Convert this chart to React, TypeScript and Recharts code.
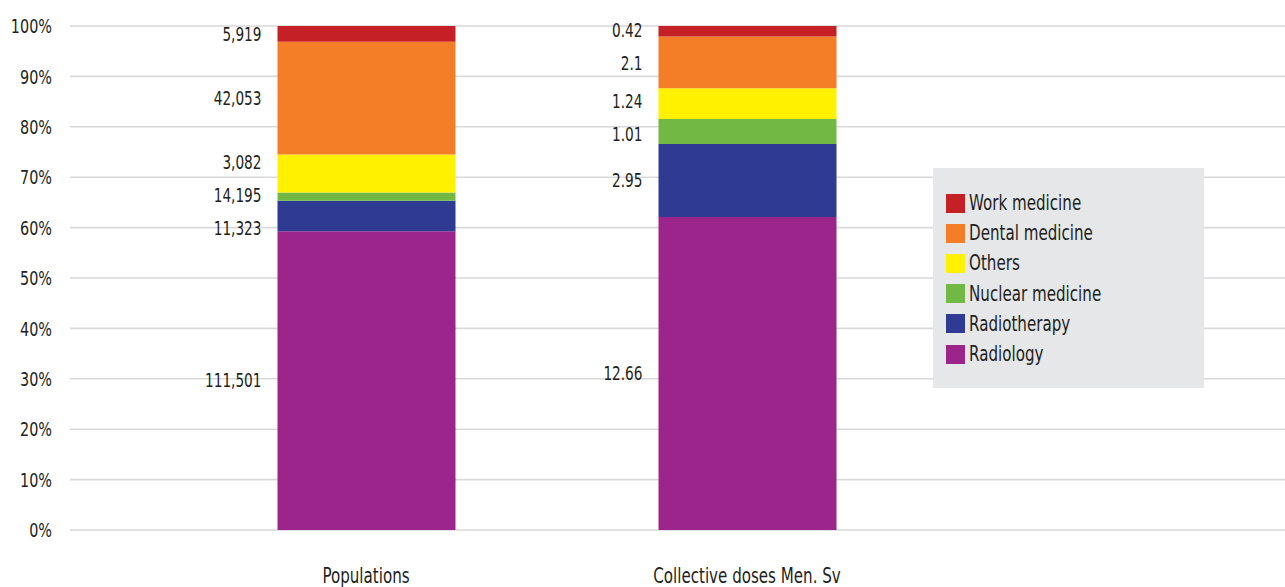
import React from 'react';
import { BarChart, Bar, XAxis, YAxis, CartesianGrid, Legend, LabelList } from 'recharts';

// Categories (x axis)
const categories = ['Populations', 'Collective doses Men. Sv'];

// Series values (one entry per category)
const radiology = [111501, 12.66];
const radiotherapy = [11323, 2.95];
const nuclearMedicine = [3082, 1.01];
const others = [14195, 1.24];
const dentalMedicine = [42053, 2.1];
const workMedicine = [5919, 0.42];

// Value labels as printed beside each segment
const radiologyLabels = ['111,501', '12.66'];
const radiotherapyLabels = ['11,323', '2.95'];
const nuclearLabels = ['14,195', '1.01'];
const othersLabels = ['3,082', '1.24'];
const dentalLabels = ['42,053', '2.1'];
const workLabels = ['5,919', '0.42'];

// Y axis tick values (share of total)
const yTicks = [0, 0.1, 0.2, 0.3, 0.4, 0.5, 0.6, 0.7, 0.8, 0.9, 1];

const FONT = "'DejaVu Sans Condensed', 'DejaVu Sans', sans-serif";
const TEXT = '#231F20';
const SQUEEZE = 0.8;
const MIN_LABEL_GAP = 0.065; // minimum vertical gap between labels, in share of the bar

const series = [
  { key: 'radiology', name: 'Radiology', color: '#9B258B', values: radiology, labels: radiologyLabels },
  { key: 'radiotherapy', name: 'Radiotherapy', color: '#2F3B93', values: radiotherapy, labels: radiotherapyLabels },
  { key: 'nuclear', name: 'Nuclear medicine', color: '#72B844', values: nuclearMedicine, labels: nuclearLabels },
  { key: 'others', name: 'Others', color: '#FFF100', values: others, labels: othersLabels },
  { key: 'dental', name: 'Dental medicine', color: '#F37E27', values: dentalMedicine, labels: dentalLabels },
  { key: 'work', name: 'Work medicine', color: '#C52026', values: workMedicine, labels: workLabels },
];

const data = categories.map((category, i) => {
  const row: Record<string, string | number> = { category };
  series.forEach((s) => {
    row[s.key] = s.values[i];
  });
  return row;
});

// For each category: segment start share, segment share and spread label centre share per series
const layout = categories.map((_, ci) => {
  const total = series.reduce((a, s) => a + s.values[ci], 0);
  let acc = 0;
  const segs = series.map((s) => {
    const start = acc / total;
    const share = s.values[ci] / total;
    acc += s.values[ci];
    return { start, share, centre: start + share / 2 };
  });
  // spread label centres so that they keep a minimum gap (clusters centred on their mean)
  type Cl = { items: number[]; pos: number };
  const clusters: Cl[] = [];
  segs.forEach((seg, i) => {
    clusters.push({ items: [i], pos: seg.centre });
    while (clusters.length > 1) {
      const b = clusters[clusters.length - 1];
      const a = clusters[clusters.length - 2];
      const aEnd = a.pos + (a.items.length - 1) * MIN_LABEL_GAP;
      if (b.pos - aEnd >= MIN_LABEL_GAP) break;
      const items = a.items.concat(b.items);
      const pos = items.reduce((sum, k, j) => sum + segs[k].centre - j * MIN_LABEL_GAP, 0) / items.length;
      clusters.splice(clusters.length - 2, 2, { items, pos });
    }
  });
  const labelAt: number[] = new Array(segs.length).fill(0);
  clusters.forEach((c) => c.items.forEach((k, j) => (labelAt[k] = c.pos + j * MIN_LABEL_GAP)));
  return segs.map((seg, i) => ({ ...seg, labelAt: labelAt[i] }));
});

const NarrowText = ({ x, y, anchor, size, baseline, children }: any) => (
  <text
    transform={`translate(${x},${y}) scale(${SQUEEZE},1)`}
    x={0}
    y={0}
    textAnchor={anchor}
    dominantBaseline={baseline}
    fontFamily={FONT}
    fontSize={size}
    fill={TEXT}
  >
    {children}
  </text>
);

const makeLabel = (seriesIndex: number, labels: string[]) => (props: any) => {
  const { x, y, height, index } = props;
  if (index == null || labels[index] == null) return null;
  const seg = layout[index][seriesIndex];
  const h = Number(height);
  const pxPerShare = seg.share > 0 ? h / seg.share : 0;
  const bottom = Number(y) + h;
  const ly = bottom - (seg.labelAt - seg.start) * pxPerShare;
  return (
    <NarrowText x={Number(x) - 16} y={ly} anchor="end" size={19} baseline="central">
      {labels[index]}
    </NarrowText>
  );
};

const YTick = (props: any) => {
  const { x, y, payload } = props;
  return (
    <NarrowText x={x} y={y} anchor="end" size={20} baseline="central">
      {`${Math.round(payload.value * 100)}%`}
    </NarrowText>
  );
};

const XTick = (props: any) => {
  const { x, y, payload } = props;
  return (
    <NarrowText x={x} y={Number(y) + 15} anchor="middle" size={21} baseline="auto">
      {payload.value}
    </NarrowText>
  );
};

const LegendBox = (props: any) => {
  const payload = props.payload || [];
  const items = [...series].reverse().map((s) => {
    const p = payload.find((e: any) => e.value === s.name);
    return { name: s.name, color: (p && p.color) || s.color };
  });
  return (
    <div
      style={{
        background: '#E6E7E8',
        width: 271,
        height: 220,
        boxSizing: 'border-box',
        paddingTop: 20,
        paddingLeft: 13,
        fontFamily: FONT,
      }}
    >
      {items.map((entry) => (
        <div key={entry.name} style={{ display: 'flex', alignItems: 'center', height: 30.2 }}>
          <span
            style={{ width: 19, height: 19, background: entry.color, display: 'inline-block', marginRight: 4, flex: 'none' }}
          />
          <span
            style={{
              fontSize: 21,
              color: TEXT,
              lineHeight: '30px',
              display: 'inline-block',
              transform: `scaleX(${SQUEEZE})`,
              transformOrigin: 'left center',
              whiteSpace: 'nowrap',
            }}
          >
            {entry.name}
          </span>
        </div>
      ))}
    </div>
  );
};

export default function App() {
  return (
    <div style={{ position: 'absolute', left: 0, top: 0, background: '#fff' }}>
      <BarChart
        width={1285}
        height={587}
        data={data}
        stackOffset="expand"
        margin={{ top: 26, right: 0, bottom: 0, left: 0 }}
        barSize={178}
      >
        <CartesianGrid vertical={false} stroke="#D9D9DB" strokeWidth={1.6} />
        <XAxis
          dataKey="category"
          axisLine={false}
          tickLine={false}
          height={57}
          tickMargin={32}
          padding={{ left: 105.5, right: 347.5 }}
          tick={<XTick />}
          interval={0}
        />
        <YAxis
          domain={[0, 1]}
          ticks={yTicks}
          axisLine={false}
          tickLine={false}
          width={70}
          tickMargin={12}
          tick={<YTick />}
          interval={0}
        />
        <Legend
          layout="vertical"
          align="center"
          verticalAlign="middle"
          wrapperStyle={{ left: 933, top: 168, width: 271, height: 220 }}
          content={<LegendBox />}
        />
        {series.map((s, si) => (
          <Bar key={s.key} dataKey={s.key} name={s.name} stackId="a" fill={s.color} isAnimationActive={false}>
            <LabelList dataKey={s.key} content={makeLabel(si, s.labels)} />
          </Bar>
        ))}
      </BarChart>
    </div>
  );
}
